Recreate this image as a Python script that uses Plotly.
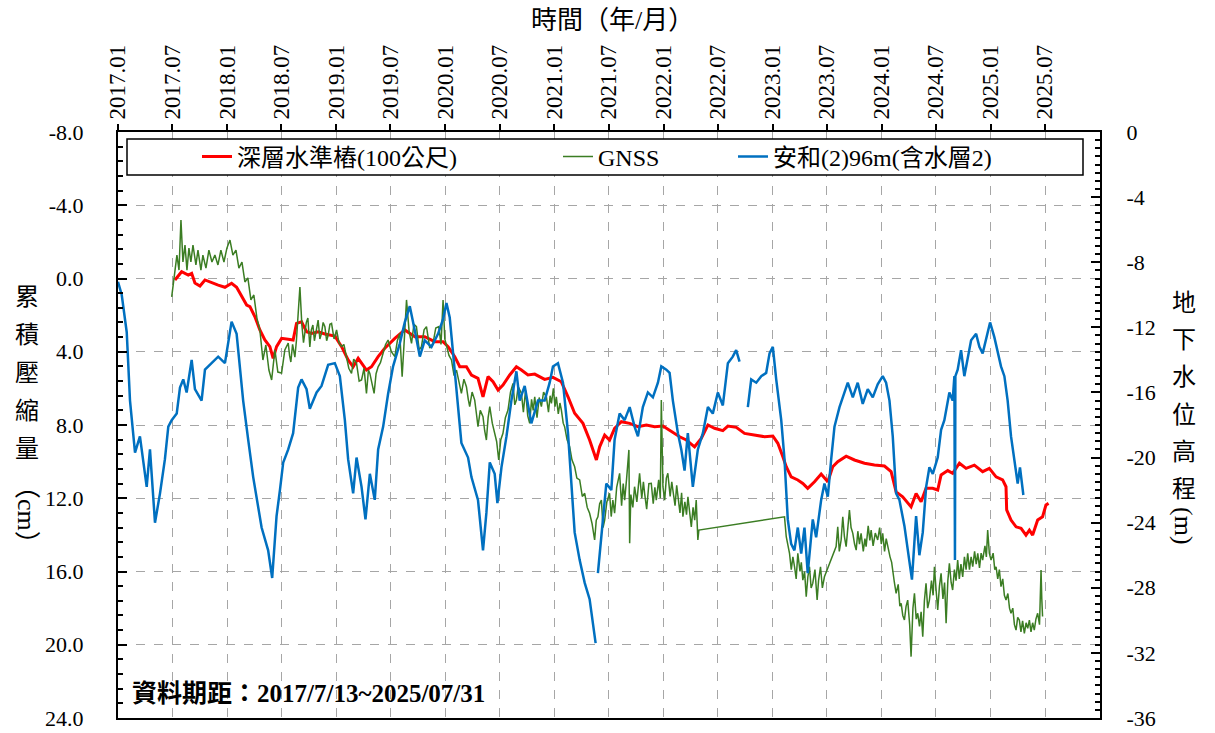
import pandas as pd
import plotly.graph_objects as go

# ---------------- data ----------------
x_tick_dates = ["2017-01-01", "2017-07-01", "2018-01-01", "2018-07-01", "2019-01-01", "2019-07-01",
                "2020-01-01", "2020-07-01", "2021-01-01", "2021-07-01", "2022-01-01", "2022-07-01",
                "2023-01-01", "2023-07-01", "2024-01-01", "2024-07-01", "2025-01-01", "2025-07-01"]
x_tick_labels = ["2017.01", "2017.07", "2018.01", "2018.07", "2019.01", "2019.07", "2020.01", "2020.07",
                 "2021.01", "2021.07", "2022.01", "2022.07", "2023.01", "2023.07", "2024.01", "2024.07",
                 "2025.01", "2025.07"]
left_ticks = [-8, -4, 0, 4, 8, 12, 16, 20, 24]
left_tick_labels = ["-8.0", "-4.0", "0.0", "4.0", "8.0", "12.0", "16.0", "20.0", "24.0"]
right_ticks = [0, -4, -8, -12, -16, -20, -24, -28, -32, -36]
right_tick_labels = ["0", "-4", "-8", "-12", "-16", "-20", "-24", "-28", "-32", "-36"]

# 深層水準樁(100公尺): decimal year, cumulative compaction (cm)
red_t = [2017.522, 2017.583, 2017.644, 2017.675, 2017.705, 2017.751, 2017.797, 2017.858, 2017.918, 2017.980,
         2018.041, 2018.087, 2018.133, 2018.179, 2018.209, 2018.255, 2018.300, 2018.346, 2018.392, 2018.422,
         2018.453, 2018.499, 2018.560, 2018.605, 2018.636, 2018.682, 2018.728, 2018.774, 2018.834, 2018.896,
         2018.987, 2019.049, 2019.109, 2019.155, 2019.201, 2019.277, 2019.323, 2019.384, 2019.445, 2019.537,
         2019.628, 2019.720, 2019.811, 2019.903, 2019.979, 2020.025, 2020.086, 2020.132, 2020.193, 2020.239,
         2020.299, 2020.345, 2020.391, 2020.437, 2020.483, 2020.528, 2020.590, 2020.651, 2020.697, 2020.757,
         2020.819, 2020.910, 2020.986, 2021.063, 2021.124, 2021.185, 2021.261, 2021.322, 2021.384, 2021.414,
         2021.460, 2021.505, 2021.551, 2021.613, 2021.689, 2021.765, 2021.842, 2021.918, 2021.994, 2022.070,
         2022.147, 2022.208, 2022.284, 2022.345, 2022.406, 2022.467, 2022.543, 2022.589, 2022.666, 2022.742,
         2022.833, 2022.925, 2023.001, 2023.047, 2023.093, 2023.124, 2023.169, 2023.230, 2023.276, 2023.321,
         2023.383, 2023.444, 2023.505, 2023.550, 2023.596, 2023.673, 2023.749, 2023.841, 2023.932, 2024.024,
         2024.085, 2024.131, 2024.191, 2024.268, 2024.314, 2024.360, 2024.405, 2024.466, 2024.512, 2024.543,
         2024.604, 2024.649, 2024.711, 2024.772, 2024.848, 2024.924, 2024.985, 2025.047, 2025.107, 2025.138,
         2025.144, 2025.184, 2025.230, 2025.276, 2025.321, 2025.352, 2025.382, 2025.428, 2025.473, 2025.504,
         2025.528]
red_v = [0.08, -0.37, -0.19, -0.28, 0.25, 0.41, 0.08, 0.23, 0.36, 0.48,
         0.26, 0.48, 1.00, 1.45, 1.54, 2.09, 2.81, 3.36, 3.72, 4.36,
         3.72, 3.27, 3.32, 3.36, 2.45, 2.36, 2.91, 3.00, 2.91, 3.03,
         3.14, 3.72, 4.45, 4.82, 4.36, 5.00, 4.82, 4.27, 3.81, 3.27,
         2.81, 3.18, 3.18, 3.45, 3.45, 3.72, 4.27, 4.82, 4.82, 5.27,
         5.45, 6.46, 5.36, 5.64, 6.09, 5.82, 5.27, 4.82, 5.00, 5.27,
         5.22, 5.51, 5.40, 5.64, 6.46, 7.36, 7.91, 8.82, 9.91, 9.19,
         8.55, 8.82, 8.18, 7.82, 7.91, 8.09, 8.00, 8.09, 8.06, 8.37,
         8.64, 8.82, 9.19, 8.73, 8.00, 8.18, 8.31, 8.06, 8.13, 8.46,
         8.55, 8.64, 8.60, 9.00, 9.73, 10.28, 10.83, 11.00, 11.19, 11.46,
         11.10, 10.68, 11.10, 10.28, 10.00, 9.70, 9.91, 10.09, 10.19, 10.24,
         10.55, 11.65, 11.92, 12.47, 11.74, 12.19, 11.46, 11.46, 11.55, 10.73,
         10.49, 10.64, 10.09, 10.37, 10.19, 10.55, 10.37, 10.83, 11.00, 11.37,
         12.64, 13.19, 13.56, 13.64, 14.01, 13.74, 14.01, 13.19, 13.01, 12.37,
         12.28]

# GNSS: decimal year, cumulative compaction (cm), read segment by segment
gnss_t = []
gnss_v = []
# 2017.07 - 2018.07
gnss_t += [2017.492, 2017.504, 2017.522, 2017.540, 2017.559, 2017.577, 2017.595, 2017.614, 2017.632, 2017.650,
           2017.668, 2017.687, 2017.714, 2017.733, 2017.760, 2017.778, 2017.806, 2017.833, 2017.861, 2017.888,
           2017.916, 2017.943, 2017.971, 2017.998, 2018.026, 2018.053, 2018.081, 2018.108, 2018.136, 2018.163,
           2018.190, 2018.218, 2018.245, 2018.273, 2018.300, 2018.328, 2018.355, 2018.383, 2018.408, 2018.438,
           2018.465, 2018.499, 2018.529]
gnss_v += [1.00, 0.36, -0.64, -1.28, -0.46, -3.19, -0.90, -1.83, -0.46, -1.66,
           -0.90, -1.83, -0.74, -1.55, -0.46, -1.28, -0.57, -1.55, -0.90, -1.28,
           -0.74, -1.55, -0.90, -1.66, -2.10, -1.28, -1.55, -0.57, -0.90, 0.19,
           -0.03, 1.17, 0.90, 2.16, 2.81, 4.45, 3.63, 5.00, 5.54, 3.90,
           5.11, 5.16, 3.90]
# 2018.07 - 2019.01
gnss_t += [2018.560, 2018.572, 2018.584, 2018.600, 2018.621, 2018.635, 2018.648, 2018.667, 2018.685, 2018.700,
           2018.712, 2018.726, 2018.740, 2018.758, 2018.772, 2018.786, 2018.800, 2018.813, 2018.834, 2018.850,
           2018.865, 2018.880, 2018.896, 2018.912, 2018.926, 2018.942, 2018.957, 2018.980]
gnss_v += [3.52, 4.20, 4.56, 3.60, 4.29, 3.40, 2.27, 0.47, 2.54, 3.50,
           2.98, 2.40, 2.16, 3.74, 2.80, 2.54, 3.40, 2.98, 2.27, 3.30,
           3.00, 2.40, 2.63, 3.40, 3.10, 2.50, 2.45, 3.30]
# 2019.01 - 2019.07
gnss_t += [2019.003, 2019.025, 2019.049, 2019.070, 2019.094, 2019.115, 2019.140, 2019.160, 2019.186, 2019.210,
           2019.232, 2019.255, 2019.277, 2019.295, 2019.308, 2019.330, 2019.347, 2019.365, 2019.384, 2019.405,
           2019.430, 2019.452, 2019.475, 2019.505, 2019.537, 2019.560]
gnss_v += [2.81, 3.50, 3.72, 3.60, 4.27, 4.90, 5.18, 4.40, 4.63, 5.60,
           5.54, 4.90, 6.27, 5.00, 5.18, 5.80, 6.27, 5.20, 4.82, 4.60,
           4.09, 3.60, 3.36, 4.00, 4.27, 3.40]
# 2019.07 - 2020.01
gnss_t += [2019.582, 2019.604, 2019.625, 2019.644, 2019.668, 2019.690, 2019.712, 2019.735, 2019.760, 2019.781,
           2019.805, 2019.827, 2019.857, 2019.887, 2019.912, 2019.940, 2019.960, 2019.979, 2019.995]
gnss_v += [3.00, 5.36, 3.20, 1.17, 2.90, 3.54, 2.50, 2.63, 3.90, 3.72,
           2.80, 2.63, 3.80, 3.54, 2.70, 2.63, 3.60, 1.17, 3.30]
# 2020.01 - 2020.07
gnss_t += [2020.010, 2020.033, 2020.056, 2020.080, 2020.102, 2020.125, 2020.147, 2020.170, 2020.193, 2020.210,
           2020.223, 2020.245, 2020.269, 2020.285, 2020.299, 2020.320, 2020.345, 2020.360, 2020.376, 2020.392,
           2020.407, 2020.430, 2020.452, 2020.470, 2020.489, 2020.508]
gnss_v += [3.72, 4.20, 4.45, 5.30, 5.00, 5.60, 6.27, 5.50, 5.91, 6.60,
           7.00, 6.20, 6.64, 7.40, 8.09, 7.20, 7.55, 8.30, 8.82, 7.60,
           7.00, 7.90, 8.45, 8.90, 9.91, 8.80]
# 2020.07 - 2021.01
gnss_t += [2020.528, 2020.550, 2020.574, 2020.597, 2020.620, 2020.636, 2020.651, 2020.667, 2020.697, 2020.715,
           2020.735, 2020.755, 2020.773, 2020.790, 2020.805, 2020.819, 2020.840, 2020.860, 2020.880, 2020.900,
           2020.926, 2020.945, 2020.960, 2020.972, 2020.990, 2021.005, 2021.017, 2021.035, 2021.050, 2021.063,
           2021.080]
gnss_v += [8.45, 7.60, 7.18, 6.20, 5.73, 6.90, 6.64, 5.90, 6.27, 7.30,
           6.10, 7.50, 7.91, 6.60, 7.20, 6.46, 7.60, 6.50, 7.00, 6.20,
           6.46, 7.30, 6.40, 6.82, 6.00, 7.00, 6.46, 7.40, 6.80, 7.18,
           7.90]
# 2021.01 - 2021.05 decline
gnss_t += [2021.093, 2021.115, 2021.139, 2021.160, 2021.185, 2021.205, 2021.231, 2021.255, 2021.277, 2021.300,
           2021.322, 2021.345, 2021.368, 2021.383]
gnss_v += [8.09, 8.80, 9.19, 9.90, 10.28, 10.90, 11.00, 11.90, 11.73, 12.50,
           12.82, 13.40, 14.28, 13.20]
# 2021.05 - 2022.05
gnss_t += [2021.398, 2021.414, 2021.430, 2021.445, 2021.460, 2021.480, 2021.505, 2021.520, 2021.535, 2021.551,
           2021.570, 2021.597, 2021.615, 2021.630, 2021.643, 2021.660, 2021.682, 2021.689, 2021.700, 2021.718,
           2021.734, 2021.755, 2021.780, 2021.800, 2021.815, 2021.826, 2021.845, 2021.865, 2021.887, 2021.905,
           2021.920, 2021.933, 2021.955, 2021.970, 2021.979, 2021.994, 2022.010, 2022.025, 2022.039, 2022.060,
           2022.075, 2022.085, 2022.105, 2022.120, 2022.131, 2022.150, 2022.165, 2022.177, 2022.195, 2022.210,
           2022.223, 2022.240, 2022.254, 2022.270, 2022.285, 2022.299, 2022.314, 2022.323]
gnss_v += [13.01, 12.30, 12.10, 13.60, 13.19, 12.20, 11.73, 13.00, 12.10, 12.82,
           11.40, 10.64, 12.40, 11.20, 12.10, 11.00, 9.36, 14.45, 11.80, 12.50,
           11.37, 12.20, 10.64, 12.00, 11.10, 11.73, 12.60, 11.20, 11.19, 12.30,
           11.40, 12.10, 11.00, 12.00, 6.64, 11.37, 12.10, 10.90, 10.64, 11.90,
           11.10, 11.55, 12.40, 11.30, 11.92, 12.80, 11.70, 13.01, 12.20, 12.90,
           11.92, 12.80, 13.56, 12.50, 13.20, 12.10, 14.28, 13.74]
# 2023.02 - 2023.06
gnss_t += [2023.108, 2023.124, 2023.140, 2023.154, 2023.170, 2023.185, 2023.200, 2023.215, 2023.230, 2023.250,
           2023.262, 2023.276, 2023.292, 2023.307, 2023.322, 2023.337, 2023.352, 2023.367, 2023.387, 2023.407,
           2023.420, 2023.438, 2023.455, 2023.474]
gnss_v += [13.01, 14.10, 14.60, 15.01, 15.90, 15.20, 15.74, 16.40, 15.01, 16.00,
           15.50, 16.47, 16.00, 17.38, 16.30, 15.74, 16.90, 16.65, 15.90, 17.56,
           16.50, 15.74, 16.90, 16.29]
# 2023.08 - 2024.02
gnss_t += [2023.581, 2023.596, 2023.610, 2023.627, 2023.642, 2023.657, 2023.673, 2023.690, 2023.703, 2023.718,
           2023.734, 2023.750, 2023.765, 2023.780, 2023.795, 2023.810, 2023.830, 2023.845, 2023.856, 2023.875,
           2023.890, 2023.902, 2023.920, 2023.940, 2023.962, 2023.980, 2023.995, 2024.008, 2024.025, 2024.040,
           2024.054, 2024.075, 2024.090]
gnss_v += [14.64, 13.56, 14.90, 14.28, 13.01, 14.10, 14.64, 13.50, 12.64, 13.60,
           13.92, 14.50, 14.83, 13.80, 14.50, 13.92, 14.90, 14.20, 14.64, 13.50,
           14.30, 13.74, 14.60, 13.90, 14.28, 13.60, 14.50, 13.92, 14.90, 14.20,
           14.64, 15.20, 15.50]
# 2024.02 - 2024.06
gnss_t += [2024.100, 2024.115, 2024.131, 2024.150, 2024.165, 2024.177, 2024.192, 2024.207, 2024.222, 2024.237,
           2024.255, 2024.268, 2024.285, 2024.299, 2024.315, 2024.329, 2024.345, 2024.360, 2024.375, 2024.390,
           2024.405, 2024.420, 2024.436, 2024.455, 2024.470]
gnss_v += [16.10, 16.60, 17.19, 16.70, 17.90, 17.74, 18.40, 18.65, 17.90, 17.56,
           18.90, 20.65, 18.00, 17.19, 18.60, 18.28, 19.00, 18.20, 19.56, 17.60,
           16.65, 18.00, 17.56, 16.50, 17.30]
# 2024.06 - 2025.01
gnss_t += [2024.482, 2024.497, 2024.512, 2024.528, 2024.543, 2024.560, 2024.575, 2024.589, 2024.605, 2024.619,
           2024.635, 2024.649, 2024.665, 2024.680, 2024.695, 2024.710, 2024.725, 2024.741, 2024.757, 2024.772,
           2024.787, 2024.803, 2024.818, 2024.833, 2024.850, 2024.865, 2024.879, 2024.895, 2024.910, 2024.924,
           2024.945, 2024.958, 2024.970, 2024.985]
gnss_v += [15.74, 17.00, 18.10, 16.80, 16.10, 17.50, 16.60, 18.83, 16.50, 15.56,
           16.60, 17.01, 15.90, 16.50, 15.38, 16.40, 15.60, 16.29, 15.20, 15.90,
           15.01, 15.90, 15.20, 15.74, 14.90, 15.60, 15.01, 15.80, 15.00, 15.38,
           14.60, 15.20, 13.74, 15.00]
# 2025.01 - 2025.07
gnss_t += [2025.001, 2025.020, 2025.035, 2025.047, 2025.062, 2025.077, 2025.092, 2025.108, 2025.123, 2025.138,
           2025.155, 2025.170, 2025.184, 2025.200, 2025.215, 2025.230, 2025.245, 2025.260, 2025.275, 2025.290,
           2025.306, 2025.322, 2025.337, 2025.352, 2025.367, 2025.382, 2025.397, 2025.412, 2025.428, 2025.445,
           2025.459, 2025.466, 2025.473]
gnss_v += [15.38, 15.00, 15.90, 15.74, 16.40, 15.90, 16.83, 16.40, 17.30, 17.56,
           17.20, 18.00, 18.28, 18.00, 18.90, 19.20, 18.50, 18.65, 19.30, 18.70,
           19.38, 18.80, 19.10, 18.65, 19.30, 18.80, 19.20, 18.60, 18.28, 18.90,
           15.92, 17.50, 18.46]

# 安和(2)96m(含水層2): decimal year, groundwater elevation (m); None = data gap
blue_t = [2017.000, 2017.034, 2017.080, 2017.110, 2017.156, 2017.201, 2017.263, 2017.293, 2017.339, 2017.385,
          2017.430, 2017.461, 2017.492, 2017.538, 2017.568, 2017.598, 2017.629, 2017.675, 2017.705, 2017.766,
          2017.797, 2017.858, 2017.918, 2017.980, 2018.041, 2018.087, 2018.147, 2018.193, 2018.239, 2018.316,
          2018.376, 2018.413, 2018.453, 2018.484, 2018.514, 2018.560, 2018.605, 2018.651, 2018.682, 2018.728,
          2018.758, 2018.820, 2018.865, 2018.926, 2018.987, 2019.033, 2019.079, 2019.109, 2019.155, 2019.186,
          2019.232, 2019.268, 2019.308, 2019.353, 2019.384, 2019.430, 2019.475, 2019.521, 2019.582, 2019.628,
          2019.674, 2019.720, 2019.766, 2019.811, 2019.873, 2019.933, 2019.979, 2020.010, 2020.040, 2020.071,
          2020.102, 2020.147, 2020.208, 2020.239, 2020.299, 2020.345, 2020.376, 2020.407, 2020.452, 2020.477,
          2020.514, 2020.560, 2020.605, 2020.651, 2020.681, 2020.727, 2020.788, 2020.849, 2020.910, 2020.956,
          2020.986, 2021.032, 2021.078, 2021.124, 2021.155, 2021.185, 2021.231, 2021.277, 2021.322, 2021.377,
          2021.387,
          2021.398, 2021.444, 2021.475, 2021.521, 2021.551, 2021.597, 2021.643, 2021.689, 2021.734, 2021.765,
          2021.810, 2021.856, 2021.902, 2021.948, 2021.979, 2022.025, 2022.055, 2022.085, 2022.131, 2022.162,
          2022.192, 2022.222, 2022.268, 2022.314, 2022.360, 2022.406, 2022.451, 2022.497, 2022.543, 2022.589,
          2022.634, 2022.665, 2022.696,
          2022.734,
          2022.772, 2022.803, 2022.849, 2022.895, 2022.940, 2022.971, 2023.001, 2023.032, 2023.078, 2023.108,
          2023.138, 2023.169, 2023.199, 2023.230, 2023.261, 2023.291, 2023.321, 2023.367, 2023.398, 2023.444,
          2023.474, 2023.505, 2023.536, 2023.566, 2023.612, 2023.658, 2023.688, 2023.734, 2023.779, 2023.825,
          2023.871, 2023.917, 2023.962, 2024.008, 2024.039, 2024.070, 2024.100, 2024.131, 2024.161, 2024.207,
          2024.237, 2024.276, 2024.314, 2024.344, 2024.375, 2024.406, 2024.436, 2024.467, 2024.512, 2024.543,
          2024.573, 2024.619, 2024.649, 2024.665, 2024.670, 2024.674, 2024.695, 2024.726, 2024.756, 2024.787,
          2024.818, 2024.864, 2024.894, 2024.924, 2024.955, 2024.992, 2025.031, 2025.061, 2025.092, 2025.123,
          2025.153, 2025.184, 2025.214, 2025.245, 2025.266, 2025.297]
blue_w = [-9.2, -10.0, -12.3, -16.5, -19.7, -18.7, -21.8, -19.5, -24.0, -22.2,
          -20.1, -18.1, -17.7, -17.3, -15.7, -15.2, -16.0, -14.0, -15.8, -16.5,
          -14.6, -14.2, -13.8, -14.2, -11.65, -12.4, -16.5, -18.9, -21.2, -24.3,
          -25.7, -27.4, -23.6, -22.0, -20.3, -19.5, -18.5, -15.7, -15.2, -15.8,
          -17.0, -16.0, -15.6, -14.3, -14.2, -15.0, -17.7, -20.1, -22.2, -20.0,
          -21.8, -23.8, -21.0, -22.6, -19.5, -18.1, -16.1, -14.4, -13.0, -11.7,
          -10.7, -12.2, -13.8, -12.8, -13.2, -12.4, -11.5, -10.5, -11.4, -13.6,
          -16.0, -19.1, -20.0, -21.2, -22.6, -25.7, -23.4, -20.3, -21.0, -22.8,
          -20.6, -18.7, -16.5, -14.7, -16.5, -15.6, -17.9, -16.5, -16.5, -15.4,
          -14.4, -14.2, -15.4, -18.5, -21.6, -24.6, -26.3, -27.7, -28.7, -31.4,
          None,
          -27.1, -23.6, -21.6, -22.0, -18.9, -17.3, -17.7, -16.9, -18.1, -18.7,
          -16.9, -16.0, -16.3, -15.4, -14.4, -14.6, -14.8, -16.5, -18.5, -19.5,
          -20.8, -18.5, -21.8, -19.5, -18.5, -16.9, -17.3, -16.0, -16.8, -14.2,
          -13.8, -13.4, -14.1,
          None,
          -16.9, -15.2, -15.4, -15.0, -14.8, -13.6, -13.2, -15.2, -17.7, -20.1,
          -23.8, -25.3, -25.7, -24.3, -25.9, -24.3, -27.1, -23.8, -24.9, -22.6,
          -21.6, -22.4, -20.1, -18.1, -16.9, -16.0, -15.4, -16.3, -15.4, -16.7,
          -15.8, -16.3, -15.5, -15.0, -15.4, -16.5, -18.7, -22.2, -22.6, -24.2,
          -25.7, -27.5, -23.6, -26.0, -24.6, -21.8, -20.6, -21.0, -20.0, -18.3,
          -17.7, -16.0, -16.5, -15.0, -26.3, -15.0, -14.6, -13.4, -15.0, -14.0,
          -12.8, -12.4, -13.2, -13.6, -12.8, -11.7, -12.6, -13.4, -14.4, -15.0,
          -16.5, -18.7, -20.1, -21.6, -20.6, -22.3]

series_names = ["深層水準樁(100公尺)", "GNSS", "安和(2)96m(含水層2)"]
series_colors = ["#FF0000", "#3B7D23", "#0070C0"]


def to_dates(ts):
    base = pd.Timestamp("2017-01-01")
    return [base + pd.to_timedelta((t - 2017.0) * 365.25, unit="D") for t in ts]


FONT = "Liberation Serif, Times New Roman, Noto Sans CJK TC, serif"

fig = go.Figure()
fig.add_trace(go.Scatter(x=to_dates(red_t), y=red_v, name=series_names[0], mode="lines",
                         line=dict(color=series_colors[0], width=3), legend="legend", yaxis="y"))
fig.add_trace(go.Scatter(x=to_dates(gnss_t), y=gnss_v, name=series_names[1], mode="lines",
                         line=dict(color=series_colors[1], width=1.5), legend="legend2", yaxis="y"))
fig.add_trace(go.Scatter(x=to_dates(blue_t), y=blue_w, name=series_names[2], mode="lines",
                         line=dict(color=series_colors[2], width=2.5), legend="legend3", yaxis="y2",
                         connectgaps=False))

# plot area in pixels
L, R, T, B = 118, 1100, 132, 718
W, H = 1215, 733


def px(xp):
    return (xp - L) / (R - L)


def py(yp):
    return 1 - (yp - T) / (B - T)


legend_common = dict(orientation="h", yanchor="middle", xanchor="left", bgcolor="rgba(0,0,0,0)",
                     borderwidth=0, font=dict(family=FONT, size=24, color="black"), itemwidth=30)
fig.update_layout(
    width=W, height=H,
    margin=dict(l=L, r=W - R, t=T, b=H - B, pad=0, autoexpand=False),
    paper_bgcolor="white", plot_bgcolor="white",
    font=dict(family=FONT, color="black"),
    showlegend=True,
    legend=dict(x=px(197), y=py(157), **legend_common),
    legend2=dict(x=px(558), y=py(157), **legend_common),
    legend3=dict(x=px(733), y=py(157), **legend_common),
    xaxis=dict(type="date", range=["2017-01-01", "2026-01-01"], side="top",
               tickvals=x_tick_dates, ticktext=x_tick_labels, tickangle=-90,
               ticks="outside", ticklen=6, tickwidth=1.5, tickcolor="black",
               tickfont=dict(family=FONT, size=23, color="black"),
               showgrid=True, gridcolor="#A6A6A6", griddash="dash", gridwidth=1.3,
               showline=True, linecolor="black", linewidth=2, mirror=True, zeroline=False,
               automargin=False),
    yaxis=dict(range=[24, -8], tickvals=left_ticks, ticktext=left_tick_labels,
               ticks="inside", ticklen=9, tickwidth=1.5, tickcolor="black",
               minor=dict(dtick=0.8, tick0=0, ticks="inside", ticklen=5, tickcolor="black", showgrid=False),
               tickfont=dict(family=FONT, size=22, color="black"), ticklabelstandoff=28,
               showgrid=True, gridcolor="#A6A6A6", griddash="dash", gridwidth=1.3,
               showline=True, linecolor="black", linewidth=2, zeroline=False, automargin=False),
    yaxis2=dict(range=[-36, 0], overlaying="y", side="right", tickvals=right_ticks,
                ticktext=right_tick_labels, ticks="inside", ticklen=9, tickwidth=1.5, tickcolor="black",
                minor=dict(dtick=0.5, tick0=0, ticks="inside", ticklen=5, tickcolor="black", showgrid=False),
                tickfont=dict(family=FONT, size=22, color="black"), ticklabelstandoff=20,
                showgrid=False, showline=True, linecolor="black", linewidth=2, zeroline=False,
                automargin=False),
)

# legend frame
fig.add_shape(type="rect", xref="paper", yref="paper", x0=px(127), x1=px(1083), y0=py(175), y1=py(139),
              line=dict(color="black", width=1.5), fillcolor="white", layer="above")

# titles
fig.add_annotation(text="時間（年/月）", xref="paper", yref="paper", x=px(612), y=py(20),
                   showarrow=False, font=dict(family=FONT, size=26, color="black"),
                   xanchor="center", yanchor="middle")

left_title = "累積壓縮量"
for i, ch in enumerate(left_title):
    fig.add_annotation(text=ch, xref="paper", yref="paper", x=px(27), y=py(297 + 38 * i),
                       showarrow=False, font=dict(family=FONT, size=24, color="black"),
                       xanchor="center", yanchor="middle")
fig.add_annotation(text="（cm）", xref="paper", yref="paper", x=px(27), y=py(515), textangle=90,
                   showarrow=False, font=dict(family=FONT, size=26, color="black"),
                   xanchor="center", yanchor="middle")

right_title = "地下水位高程"
for i, ch in enumerate(right_title):
    fig.add_annotation(text=ch, xref="paper", yref="paper", x=px(1184), y=py(303 + 37.2 * i),
                       showarrow=False, font=dict(family=FONT, size=24, color="black"),
                       xanchor="center", yanchor="middle")
fig.add_annotation(text="(m)", xref="paper", yref="paper", x=px(1184), y=py(526), textangle=90,
                   showarrow=False, font=dict(family=FONT, size=26, color="black"),
                   xanchor="center", yanchor="middle")

fig.add_annotation(text="<b>資料期距：2017/7/13~2025/07/31</b>", xref="paper", yref="paper",
                   x=px(130), y=py(693), showarrow=False, xanchor="left", yanchor="middle",
                   font=dict(family=FONT, size=25, color="black"))

fig.write_html("out.html", config={"displayModeBar": False},
               post_script="document.body.style.margin='0px';document.body.style.overflow='hidden';")
